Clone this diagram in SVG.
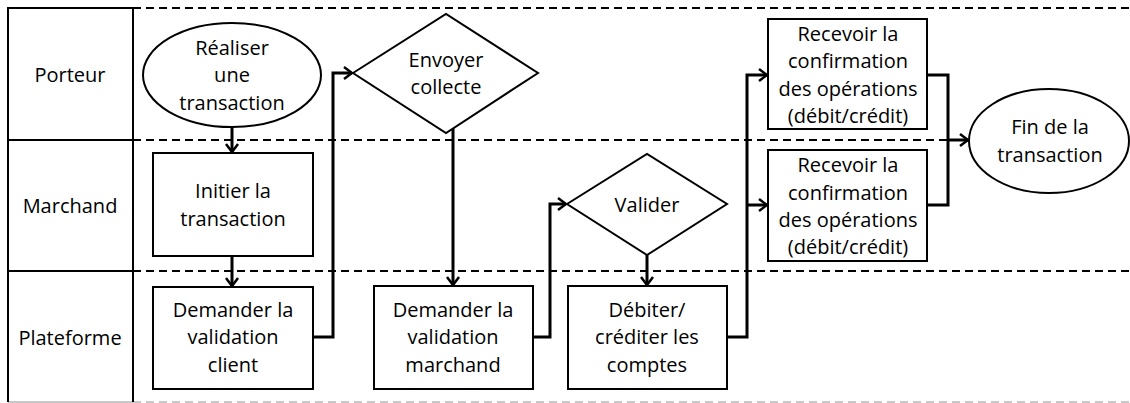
<svg xmlns="http://www.w3.org/2000/svg" width="1130" height="403" viewBox="0 0 1130 403">
<style>
text{font-family:"Open Sans","Noto Sans","DejaVu Sans",sans-serif;font-size:20px;fill:#000;text-anchor:middle}
.shape{fill:#fff;stroke:#000;stroke-width:2}
.lane{fill:none;stroke:#000;stroke-width:2}
.dash{stroke:#000;stroke-width:2;stroke-dasharray:8 5;fill:none}
.gdash{stroke:#c8c8c8;stroke-width:2;stroke-dasharray:8 5;fill:none}
.conn{fill:none;stroke:#000;stroke-width:3}
</style>
<defs>
<marker id="arr" markerUnits="userSpaceOnUse" viewBox="-10 -8 12 16" refX="0" refY="0" markerWidth="12" markerHeight="16" orient="auto">
<path d="M-8,-6 L0,0 L-8,6" fill="none" stroke="#000" stroke-width="2.5"/>
</marker>
</defs>
<rect width="1130" height="403" fill="#fff"/>
<g id="lanes">
<line class="dash" x1="133" y1="8" x2="1130" y2="8"/>
<line class="dash" x1="133" y1="140" x2="1130" y2="140"/>
<line class="dash" x1="133" y1="271" x2="1130" y2="271"/>
<line class="gdash" x1="133" y1="402" x2="1130" y2="402"/>
<line x1="8" y1="402" x2="133" y2="402" stroke="#c8c8c8" stroke-width="2"/>
<path class="lane" d="M8,402 V8 H133 V402 M8,140 H133 M8,271 H133"/>
<text x="70" y="82">Porteur</text>
<text x="70" y="213">Marchand</text>
<text x="70" y="345">Plateforme</text>
</g>
<g id="connectors">
<line class="conn" x1="232" y1="127" x2="232" y2="152" marker-end="url(#arr)"/>
<line class="conn" x1="232" y1="256" x2="232" y2="286" marker-end="url(#arr)"/>
<polyline class="conn" points="313,337 333,337 333,73 352,73" marker-end="url(#arr)"/>
<line class="conn" x1="453" y1="128" x2="453" y2="285" marker-end="url(#arr)"/>
<polyline class="conn" points="533,337 550,337 550,204 566,204" marker-end="url(#arr)"/>
<line class="conn" x1="647" y1="255" x2="647" y2="285" marker-end="url(#arr)"/>
<polyline class="conn" points="727,337 747,337 747,75 767,75" marker-end="url(#arr)"/>
<line class="conn" x1="747" y1="205" x2="767" y2="205" marker-end="url(#arr)"/>
<polyline class="conn" points="927,75 948,75 948,205 927,205"/>
<line class="conn" x1="948" y1="140" x2="968" y2="140" marker-end="url(#arr)"/>
</g>
<g id="n-realiser">
<ellipse class="shape" cx="232" cy="75" rx="89" ry="52"/>
<text x="232" y="55">Réaliser</text>
<text x="232" y="82">une</text>
<text x="232" y="110">transaction</text>
</g>
<g id="n-initier">
<rect class="shape" x="153" y="153" width="160" height="103"/>
<text x="233" y="198">Initier la</text>
<text x="233" y="226">transaction</text>
</g>
<g id="n-demander-client">
<rect class="shape" x="153" y="287" width="160" height="102"/>
<text x="233" y="317">Demander la</text>
<text x="233" y="344">validation</text>
<text x="233" y="372">client</text>
</g>
<g id="n-envoyer">
<polygon class="shape" points="353,73 446,14 538,73 446,133"/>
<text x="446" y="67">Envoyer</text>
<text x="446" y="94">collecte</text>
</g>
<g id="n-demander-marchand">
<rect class="shape" x="374" y="286" width="159" height="103"/>
<text x="453" y="317">Demander la</text>
<text x="453" y="344">validation</text>
<text x="453" y="372">marchand</text>
</g>
<g id="n-valider">
<polygon class="shape" points="567,204 647,154 727,204 647,255"/>
<text x="647" y="212">Valider</text>
</g>
<g id="n-debiter">
<rect class="shape" x="568" y="286" width="159" height="103"/>
<text x="647" y="317">Débiter/</text>
<text x="647" y="344">créditer les</text>
<text x="647" y="372">comptes</text>
</g>
<g id="n-recevoir-porteur">
<rect class="shape" x="768" y="19" width="159" height="110"/>
<text x="848" y="41">Recevoir la</text>
<text x="848" y="68">confirmation</text>
<text x="848" y="96">des opérations</text>
<text x="848" y="123">(débit/crédit)</text>
</g>
<g id="n-recevoir-marchand">
<rect class="shape" x="768" y="150" width="159" height="111"/>
<text x="848" y="172">Recevoir la</text>
<text x="848" y="200">confirmation</text>
<text x="848" y="227">des opérations</text>
<text x="848" y="254">(débit/crédit)</text>
</g>
<g id="n-fin">
<ellipse class="shape" cx="1049" cy="141" rx="80" ry="52"/>
<text x="1050" y="134">Fin de la</text>
<text x="1050" y="162">transaction</text>
</g>
</svg>
